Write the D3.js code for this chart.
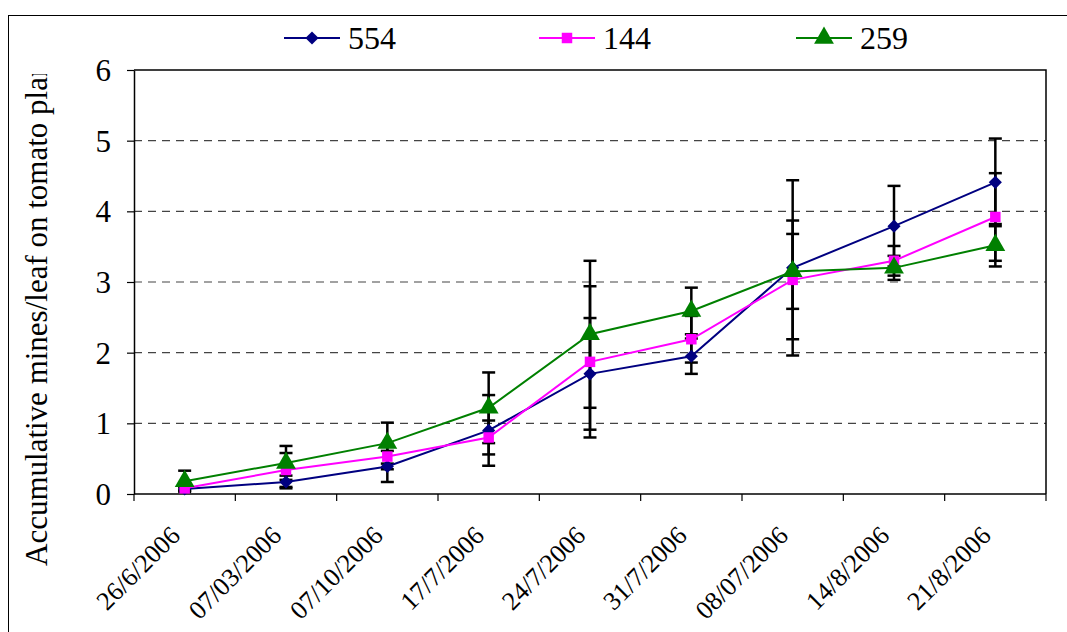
<!DOCTYPE html>
<html>
<head>
<meta charset="utf-8">
<script src="https://cdn.jsdelivr.net/npm/d3@7/dist/d3.min.js"></script>
<style>
  body { margin: 0; background: #fff; }
  svg { display: block; }
</style>
</head>
<body>
<svg id="chart" width="1067" height="632"></svg>
<script>
// dates on x axis (as printed)
var dates = ["26/6/2006", "07/03/2006", "07/10/2006", "17/7/2006", "24/7/2006",
  "31/7/2006", "08/07/2006", "14/8/2006", "21/8/2006"];
var yTicks = [0, 1, 2, 3, 4, 5, 6];

// mean accumulative mines per leaf
var s554 = [0.07, 0.17, 0.39, 0.90, 1.70, 1.95, 3.20, 3.79, 4.41];
var s144 = [0.08, 0.34, 0.53, 0.80, 1.87, 2.19, 3.03, 3.30, 3.92];
var s259 = [0.18, 0.44, 0.72, 1.22, 2.26, 2.59, 3.15, 3.20, 3.52];
// error (+/-)
var e554 = [0.02, 0.09, 0.22, 0.50, 0.79, 0.25, 1.24, 0.57, 0.62];
var e144 = [0.03, 0.24, 0.18, 0.24, 1.07, 0.33, 0.84, 0.21, 0.62];
var e259 = [0.15, 0.24, 0.29, 0.50, 1.04, 0.33, 0.53, 0.17, 0.30];

var series = [
  { name: "554", values: s554, err: e554, color: "#000080", marker: "diamond" },
  { name: "144", values: s144, err: e144, color: "#ff00ff", marker: "square" },
  { name: "259", values: s259, err: e259, color: "#008000", marker: "triangle" }
];

var FONT = "'Liberation Serif', 'Times New Roman', 'DejaVu Serif', serif";

var svg = d3.select("#chart");
var margin = { left: 134, right: 21, top: 70, bottom: 138 };
var W = 1067, H = 632;

// outer frame
svg.append("rect")
  .attr("x", 8.5).attr("y", 15.5)
  .attr("width", 1070).attr("height", 640)
  .attr("fill", "none").attr("stroke", "#000").attr("stroke-width", 1);

var x = d3.scaleBand().domain(dates).range([margin.left, W - margin.right]);
var y = d3.scaleLinear().domain([0, 6]).range([H - margin.bottom, margin.top]);
var bw = x.bandwidth();
var cx = function (i) { return x(dates[i]) + bw / 2; };

// grid lines
svg.append("g").selectAll("line")
  .data(yTicks.filter(function (d) { return d > 0 && d < 6; }))
  .enter().append("line")
  .attr("x1", margin.left).attr("x2", W - margin.right)
  .attr("y1", function (d) { return y(d); }).attr("y2", function (d) { return y(d); })
  .attr("stroke", "#444").attr("stroke-width", 1.2).attr("stroke-dasharray", "8,6");

// plot frame (top + right)
svg.append("path")
  .attr("d", "M" + margin.left + "," + y(6) + "H" + (W - margin.right) + "V" + y(0))
  .attr("fill", "none").attr("stroke", "#000").attr("stroke-width", 1.5);

// y axis
var yAxis = svg.append("g")
  .attr("transform", "translate(" + margin.left + ",0)")
  .call(d3.axisLeft(y).tickValues(yTicks).tickSize(7).tickSizeOuter(0).tickFormat(d3.format("d")));
yAxis.attr("font-family", null).attr("font-size", null);
yAxis.select(".domain").attr("stroke-width", 1.5);
yAxis.selectAll(".tick line").attr("stroke-width", 1.2);
yAxis.selectAll("text").attr("x", -23).attr("dy", "0.34em")
  .style("font-family", FONT).style("font-size", "31px").attr("fill", "#000");

// x axis
var xg = svg.append("g");
xg.append("line")
  .attr("x1", margin.left).attr("x2", W - margin.right)
  .attr("y1", y(0)).attr("y2", y(0))
  .attr("stroke", "#000").attr("stroke-width", 1.5);
xg.selectAll("line.tk")
  .data(dates.map(function (d) { return x(d); }).concat([x.range()[1]]))
  .enter().append("line").attr("class", "tk")
  .attr("x1", function (d) { return d; }).attr("x2", function (d) { return d; })
  .attr("y1", y(0)).attr("y2", y(0) + 7)
  .attr("stroke", "#000").attr("stroke-width", 1.2);
xg.selectAll("text")
  .data(dates)
  .enter().append("text")
  .attr("transform", function (d, i) { return "translate(" + (cx(i) - 3) + "," + (y(0) + 43) + ") rotate(-45)"; })
  .attr("text-anchor", "end")
  .style("font-family", FONT).style("font-size", "26px")
  .text(function (d) { return d; });

// y axis title (clipped at top like the original)
svg.append("clipPath").attr("id", "titleClip")
  .append("rect").attr("x", 0).attr("y", 74).attr("width", 120).attr("height", 560);
svg.append("g").attr("clip-path", "url(#titleClip)")
  .append("text")
  .attr("transform", "translate(47,566) rotate(-90)")
  .style("font-family", FONT).style("font-size", "31px")
  .text("Accumulative mines/leaf on tomato plant");

// error bars
var capW = 13;
series.forEach(function (s) {
  var g = svg.append("g");
  s.values.forEach(function (v, i) {
    var x0 = cx(i), yt = y(v + s.err[i]), yb = y(Math.max(0, v - s.err[i]));
    g.append("line").attr("x1", x0).attr("x2", x0).attr("y1", yt).attr("y2", yb)
      .attr("stroke", "#000").attr("stroke-width", 2.5);
    [yt, yb].forEach(function (yy) {
      g.append("line").attr("x1", x0 - capW / 2).attr("x2", x0 + capW / 2)
        .attr("y1", yy).attr("y2", yy).attr("stroke", "#000").attr("stroke-width", 2.5);
    });
  });
});

var symbols = {
  diamond: d3.symbol().type(d3.symbolDiamond2).size(110),
  square: d3.symbol().type(d3.symbolSquare).size(110),
  triangle: d3.symbol().type(d3.symbolTriangle).size(170)
};

var line = d3.line().x(function (d, i) { return cx(i); }).y(function (d) { return y(d); });

series.forEach(function (s) {
  svg.append("path").datum(s.values)
    .attr("d", line).attr("fill", "none")
    .attr("stroke", s.color).attr("stroke-width", 2);
  svg.append("g").selectAll("path")
    .data(s.values).enter().append("path")
    .attr("d", symbols[s.marker])
    .attr("transform", function (d, i) { return "translate(" + cx(i) + "," + y(d) + ")"; })
    .attr("fill", s.color);
});

// legend
var legX = [284, 539, 796];
var leg = svg.append("g");
series.forEach(function (s, i) {
  var g = leg.append("g").attr("transform", "translate(" + legX[i] + ",38)");
  g.append("line").attr("x1", 0).attr("x2", 56).attr("stroke", s.color).attr("stroke-width", 2);
  g.append("path").attr("d", symbols[s.marker]).attr("transform", "translate(28,0)").attr("fill", s.color);
  g.append("text").attr("x", 64).attr("dy", "0.35em")
    .style("font-family", FONT).style("font-size", "32px").text(s.name);
});
</script>
</body>
</html>
